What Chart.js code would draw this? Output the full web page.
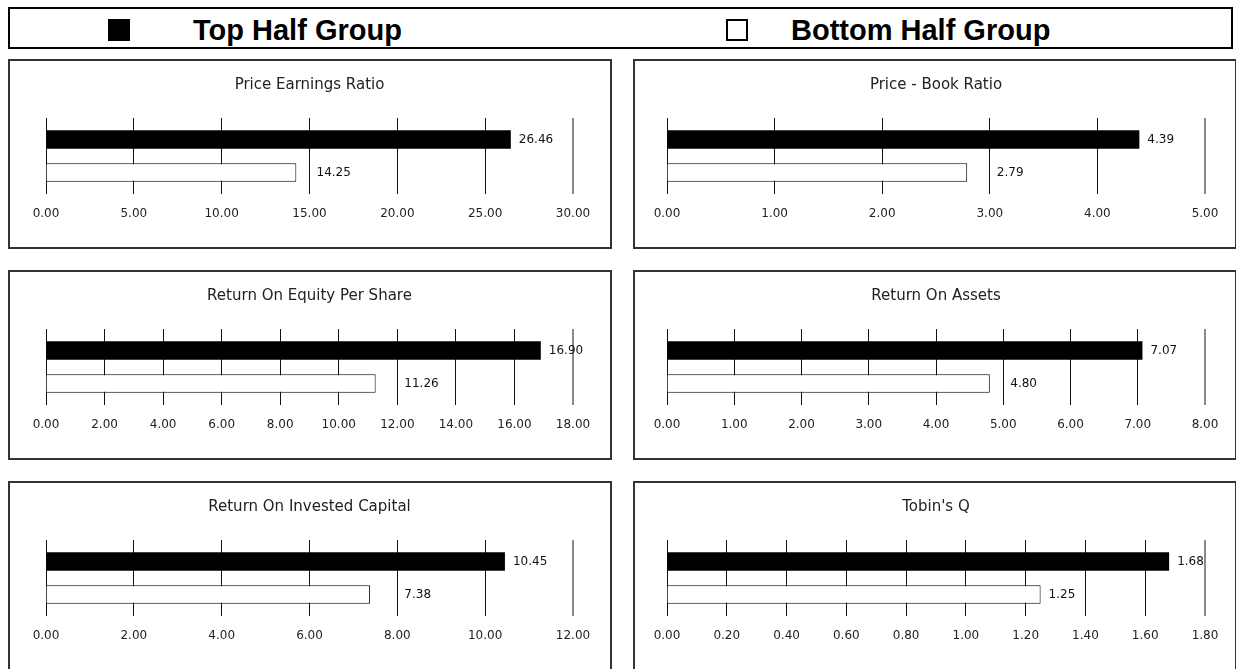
<!DOCTYPE html>
<html>
<head>
<meta charset="utf-8">
<script src="https://cdn.jsdelivr.net/npm/chart.js@4.4.1/dist/chart.umd.min.js"></script>
<style>
  html, body { margin: 0; padding: 0; background: #fff; }
  body { width: 1236px; height: 669px; overflow: hidden; position: relative; font-family: "Liberation Sans", Arial, sans-serif; }
  #legend { position: absolute; left: 8px; top: 7px; width: 1221px; height: 38px; border: 2px solid #000; }
  .key { position: absolute; top: 10px; width: 22px; height: 22px; box-sizing: border-box; }
  .key.top { left: 98px; background: #000; border: 2px solid #000; }
  .key.bottom { left: 716px; background: #fff; border: 2px solid #000; }
  .name { position: absolute; top: 4px; font-weight: bold; font-size: 29px; line-height: 34px; color: #000; white-space: nowrap; }
  .panel { position: absolute; width: 604px; height: 190px; box-sizing: border-box; border: 2px solid #333; }
  canvas.chart { position: absolute; }
</style>
</head>
<body>
<div id="legend">
  <div class="key top"></div><div class="name" id="nameTop" style="left:183px"></div>
  <div class="key bottom"></div><div class="name" id="nameBottom" style="left:781px"></div>
</div>
<div id="panels"></div>
<script>
// Financial ratios compared between the two halves of the sample
const seriesNames = ['Top Half Group', 'Bottom Half Group'];
const metrics = ['Price Earnings Ratio', 'Price - Book Ratio', 'Return On Equity Per Share', 'Return On Assets', 'Return On Invested Capital', "Tobin's Q"];
const topHalf = [26.46, 4.39, 16.90, 7.07, 10.45, 1.68];
const bottomHalf = [14.25, 2.79, 11.26, 4.80, 7.38, 1.25];
const axisMax = [30, 5, 18, 8, 12, 1.8];
const axisStep = [5, 1, 2, 1, 2, 0.2];

document.getElementById('nameTop').textContent = seriesNames[0];
document.getElementById('nameBottom').textContent = seriesNames[1];

const FONT = 'DejaVu Sans';

// Value labels at the end of each bar; the lower bar's label is moved
// past a grid line it would otherwise sit on.
const valueLabels = {
  id: 'valueLabels',
  afterDatasetsDraw(chart) {
    const ctx = chart.ctx;
    const xScale = chart.scales.x;
    const gridPx = xScale.ticks.map((t, i) => xScale.getPixelForTick(i));
    ctx.save();
    ctx.font = '12px "' + FONT + '"';
    ctx.fillStyle = '#111';
    ctx.textAlign = 'left';
    ctx.textBaseline = 'middle';
    chart.data.datasets.forEach((ds, di) => {
      const meta = chart.getDatasetMeta(di);
      meta.data.forEach((bar, i) => {
        const text = ds.data[i].toFixed(2);
        const w = ctx.measureText(text).width;
        let x = bar.x + 8;
        if (di === 1) {
          const hit = gridPx.find(g => g > bar.x + 1 && g < x + w + 2);
          if (hit !== undefined) x = hit + 7;
        }
        ctx.fillText(text, x, bar.y);
      });
    });
    ctx.restore();
  }
};

const panelLeft = [8, 633];
const panelTop = [59, 270, 481];
const host = document.getElementById('panels');

metrics.forEach((name, k) => {
  const col = k % 2, row = Math.floor(k / 2);
  const left = panelLeft[col], top = panelTop[row];

  const box = document.createElement('div');
  box.className = 'panel';
  box.style.left = left + 'px';
  box.style.top = top + 'px';
  host.appendChild(box);

  const cv = document.createElement('canvas');
  cv.className = 'chart';
  cv.width = 604; cv.height = 190;
  cv.style.left = left + 'px';
  cv.style.top = top + 'px';
  cv.style.width = '604px'; cv.style.height = '190px';
  host.appendChild(cv);

  const lastTick = Math.round(axisMax[k] / axisStep[k]);
  new Chart(cv, {
    type: 'bar',
    data: {
      labels: [name],
      datasets: [
        { label: seriesNames[0], data: [topHalf[k]], backgroundColor: '#000', borderWidth: 0 },
        { label: seriesNames[1], data: [bottomHalf[k]], backgroundColor: '#fff', borderColor: '#000', borderWidth: 1 }
      ]
    },
    options: {
      indexAxis: 'y',
      responsive: false,
      animation: false,
      devicePixelRatio: 1,
      categoryPercentage: 0.868,
      barPercentage: 0.56,
      layout: { padding: col === 0 ? { left: 38, right: 39, top: 0, bottom: 0 } : { left: 34, right: 32, top: 0, bottom: 0 } },
      plugins: {
        legend: { display: false },
        tooltip: { enabled: false },
        title: {
          display: true,
          text: name,
          color: '#222',
          font: { family: FONT, size: 15, weight: 'normal', lineHeight: 1.2 },
          padding: { top: 17, bottom: 24 }
        }
      },
      scales: {
        y: { display: false },
        x: {
          type: 'linear',
          min: 0,
          max: axisMax[k],
          afterFit(scale) { scale.height = 55; },
          border: { display: false },
          grid: {
            drawTicks: false,
            color: c => c.index === lastTick ? '#8a8a8a' : '#111',
            lineWidth: c => c.index === lastTick ? 2 : 1
          },
          ticks: {
            stepSize: axisStep[k],
            padding: 13,
            color: '#222',
            font: { family: FONT, size: 12 },
            maxRotation: 0,
            autoSkip: false,
            callback: v => Number(v).toFixed(2)
          }
        }
      }
    },
    plugins: [valueLabels]
  });
});
</script>
</body>
</html>
